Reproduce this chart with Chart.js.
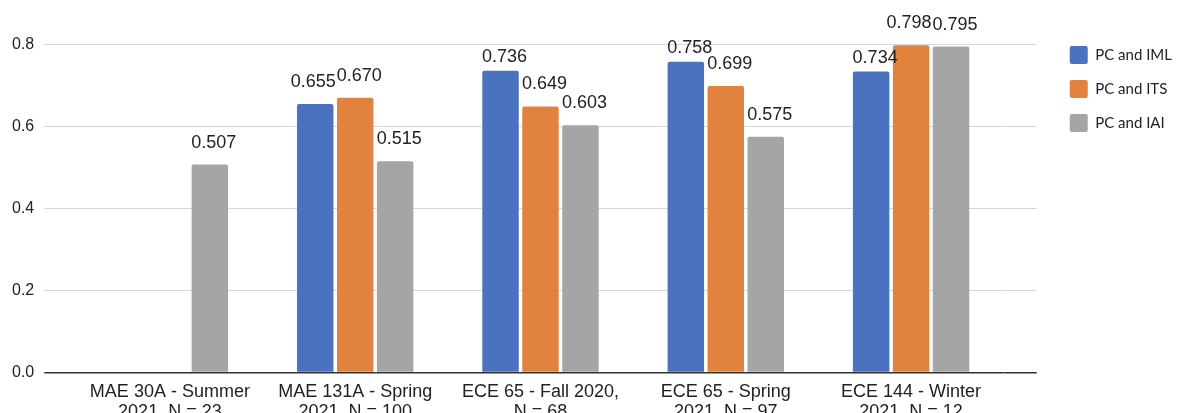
<!DOCTYPE html>
<html>
<head>
<meta charset="utf-8">
<script src="https://cdn.jsdelivr.net/npm/chart.js@4/dist/chart.umd.min.js"></script>
<style>
  html, body { margin: 0; padding: 0; background: #fff; overflow: hidden; }
  #wrap { width: 1185px; height: 432px; }
</style>
</head>
<body>
<div id="wrap"><canvas id="chart"></canvas></div>
<script>
const COURSES = [
  ['MAE 30A - Summer', '2021, N = 23'],
  ['MAE 131A - Spring', '2021, N = 100'],
  ['ECE 65 - Fall 2020,', 'N = 68'],
  ['ECE 65 - Spring', '2021, N = 97'],
  ['ECE 144 - Winter', '2021, N = 12'],
];
const PC_IML = [null, 0.655, 0.736, 0.758, 0.734];
const PC_ITS = [null, 0.670, 0.649, 0.699, 0.798];
const PC_IAI = [0.507, 0.515, 0.603, 0.575, 0.795];
const Y_TICKS = [0, 0.2, 0.4, 0.6, 0.8];

const COLORS = ['#4a72bf', '#e1823f', '#a5a5a5'];
const TEXT = '#222';
const FONT = "'Liberation Sans', Arial, sans-serif";

// value labels above the bars, nudged off the top gridline / neighbours
const valueLabels = {
  id: 'valueLabels',
  afterDatasetsDraw(chart) {
    const { ctx } = chart;
    const topGrid = chart.scales.y.getPixelForValue(Y_TICKS[Y_TICKS.length - 1]);
    ctx.save();
    ctx.font = `18px ${FONT}`;
    ctx.fillStyle = TEXT;
    ctx.textAlign = 'center';
    ctx.textBaseline = 'alphabetic';
    const cap = 13;
    COURSES.forEach((_, i) => {
      const items = [];
      chart.data.datasets.forEach((ds, d) => {
        const v = ds.data[i];
        if (v == null) return;
        const bar = chart.getDatasetMeta(d).data[i];
        const text = v.toFixed(3);
        const w = ctx.measureText(text).width;
        let y = bar.y - 17;
        if (y - cap < topGrid && y > topGrid) y = bar.y - 9;
        items.push({ text, x: bar.x + 4, y, w });
      });
      for (let k = 1; k < items.length; k++) {
        const a = items[k - 1], b = items[k];
        const overlapX = (a.x + a.w / 2) - (b.x - b.w / 2);
        const overlapY = Math.abs(a.y - b.y) < cap;
        if (overlapX > 0 && overlapY) a.x -= overlapX + 1;
      }
      items.forEach(it => ctx.fillText(it.text, it.x, it.y));
    });
    ctx.restore();
  },
};

// only the round ticks, the extra headroom above 0.8 gets no line
const keepTicks = (scale) => {
  scale.ticks = Y_TICKS.map(v => ({ value: v }));
};

const gridColor = c => (c.tick && c.tick.value === 0 ? '#333' : '#d6d6d6');
const gridWidth = c => (c.tick && c.tick.value === 0 ? 1.5 : 1);

new Chart(document.getElementById('chart'), {
  type: 'bar',
  data: {
    labels: COURSES,
    datasets: [
      { label: 'PC and IML', data: PC_IML, backgroundColor: COLORS[0] },
      { label: 'PC and ITS', data: PC_ITS, backgroundColor: COLORS[1] },
      { label: 'PC and IAI', data: PC_IAI, backgroundColor: COLORS[2] },
    ].map(ds => ({
      ...ds,
      categoryPercentage: 0.647,
      barPercentage: 0.9125,
      borderRadius: { topLeft: 2, topRight: 2 },
      borderSkipped: 'start',
    })),
  },
  options: {
    responsive: true,
    maintainAspectRatio: false,
    animation: false,
    layout: { padding: { top: 30, left: 2, right: 3, bottom: 0 } },
    scales: {
      x: {
        grid: { display: false, drawTicks: false },
        border: { display: false },
        ticks: {
          color: TEXT,
          font: { family: FONT, size: 18, lineHeight: 1.1 },
          maxRotation: 0,
          autoSkip: false,
          padding: 10,
        },
      },
      y: {
        min: 0,
        max: 0.8354,
        afterBuildTicks: keepTicks,
        border: { display: false },
        grid: { color: gridColor, lineWidth: gridWidth, tickLength: 33 },
        ticks: {
          color: TEXT,
          padding: 10,
          font: { family: FONT, size: 16 },
          callback: v => Number(v).toFixed(1),
        },
      },
      yRight: {
        position: 'right',
        min: 0,
        max: 0.8354,
        afterBuildTicks: keepTicks,
        afterFit: s => { s.width = 50; },
        border: { display: false },
        grid: { drawOnChartArea: false, color: gridColor, lineWidth: gridWidth, tickLength: 33 },
        ticks: { display: false },
      },
    },
    plugins: {
      legend: {
        position: 'right',
        align: 'start',
        labels: {
          boxWidth: 18,
          boxHeight: 18,
          padding: 16,
          useBorderRadius: true,
          borderRadius: 2,
          color: TEXT,
          font: { family: 'Lato', size: 15 },
        },
      },
      tooltip: { enabled: false },
    },
  },
  plugins: [valueLabels],
});
</script>
</body>
</html>
